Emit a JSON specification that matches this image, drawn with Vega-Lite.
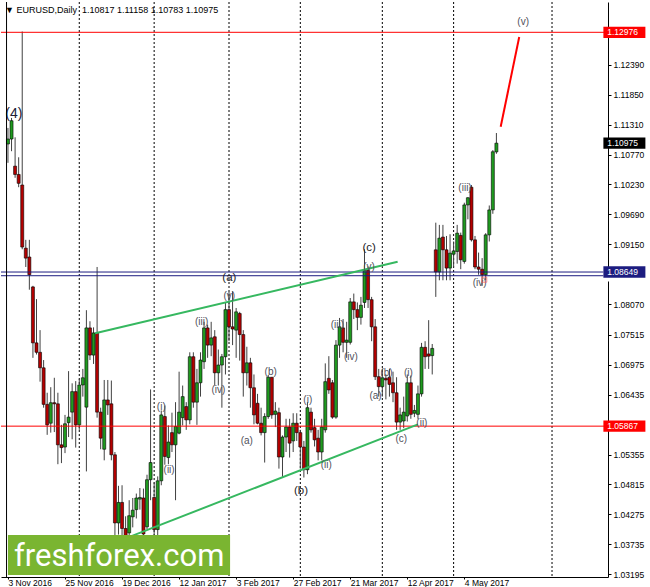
{
  "$schema": "https://vega.github.io/schema/vega-lite/v6.json",
  "width": 607,
  "height": 575,
  "autosize": "none",
  "padding": {"left": 1, "top": 2, "right": 42, "bottom": 10},
  "background": "#ffffff",
  "config": {"view": {"stroke": null}, "font": "Liberation Sans",
    "axis": {"labelOverlap": false, "labelBound": false, "labelFlush": false, "grid": false, "title": null}},
  "title": {"text": "▼ EURUSD,Daily\u00a0\u00a01.10817 1.11158 1.10783 1.10975", "anchor": "start", "frame": "group", "orient": "top", "offset": -13, "dx": 4, "fontSize": 9, "fontWeight": "normal", "font": "Liberation Sans", "color": "#000000"},
  "datasets": {
    "candles": [
      {"i":0,"o":1.1096,"h":1.1125,"l":1.1062,"c":1.1105},
      {"i":1,"o":1.1105,"h":1.1143,"l":1.1083,"c":1.1138},
      {"i":2,"o":1.1056,"h":1.1108,"l":1.1035,"c":1.1041},
      {"i":3,"o":1.1041,"h":1.1072,"l":1.1018,"c":1.1025},
      {"i":4,"o":1.1022,"h":1.1299,"l":1.0906,"c":1.0910},
      {"i":5,"o":1.0908,"h":1.0923,"l":1.0874,"c":1.0890},
      {"i":6,"o":1.0892,"h":1.0923,"l":1.0833,"c":1.0860},
      {"i":7,"o":1.0838,"h":1.0840,"l":1.0710,"c":1.0737},
      {"i":8,"o":1.0737,"h":1.0816,"l":1.0716,"c":1.0720},
      {"i":9,"o":1.0720,"h":1.0760,"l":1.0667,"c":1.0692},
      {"i":10,"o":1.0692,"h":1.0706,"l":1.0620,"c":1.0626},
      {"i":11,"o":1.0626,"h":1.0647,"l":1.0571,"c":1.0589},
      {"i":12,"o":1.0592,"h":1.0657,"l":1.0575,"c":1.0629},
      {"i":13,"o":1.0629,"h":1.0674,"l":1.0576,"c":1.0627},
      {"i":14,"o":1.0627,"h":1.0647,"l":1.0518,"c":1.0553},
      {"i":15,"o":1.0553,"h":1.0589,"l":1.0520,"c":1.0548},
      {"i":16,"o":1.0549,"h":1.0607,"l":1.0538,"c":1.0591},
      {"i":17,"o":1.0593,"h":1.0686,"l":1.0567,"c":1.0603},
      {"i":18,"o":1.0612,"h":1.0664,"l":1.0563,"c":1.0649},
      {"i":19,"o":1.0649,"h":1.0668,"l":1.0548,"c":1.0589},
      {"i":20,"o":1.0589,"h":1.0672,"l":1.0580,"c":1.0661},
      {"i":21,"o":1.0661,"h":1.0690,"l":1.0640,"c":1.0674},
      {"i":22,"o":1.0621,"h":1.0796,"l":1.0505,"c":1.0764},
      {"i":23,"o":1.0764,"h":1.0776,"l":1.0706,"c":1.0715},
      {"i":24,"o":1.0715,"h":1.0765,"l":1.0699,"c":1.0755},
      {"i":25,"o":1.0755,"h":1.0874,"l":1.0602,"c":1.0612},
      {"i":26,"o":1.0612,"h":1.0620,"l":1.0545,"c":1.0565},
      {"i":27,"o":1.0545,"h":1.0670,"l":1.0525,"c":1.0634},
      {"i":28,"o":1.0634,"h":1.0670,"l":1.0607,"c":1.0625},
      {"i":29,"o":1.0627,"h":1.0669,"l":1.0525,"c":1.0535},
      {"i":30,"o":1.0535,"h":1.0540,"l":1.0366,"c":1.0412},
      {"i":31,"o":1.0412,"h":1.0479,"l":1.0391,"c":1.0449},
      {"i":32,"o":1.0449,"h":1.0480,"l":1.0390,"c":1.0402},
      {"i":33,"o":1.0402,"h":1.0424,"l":1.0352,"c":1.0381},
      {"i":34,"o":1.0394,"h":1.0453,"l":1.0368,"c":1.0425},
      {"i":35,"o":1.0423,"h":1.0457,"l":1.0404,"c":1.0435},
      {"i":36,"o":1.0436,"h":1.0465,"l":1.0420,"c":1.0457},
      {"i":37,"o":1.0455,"h":1.0475,"l":1.0436,"c":1.0458},
      {"i":38,"o":1.0457,"h":1.0474,"l":1.0375,"c":1.0392},
      {"i":39,"o":1.0405,"h":1.0499,"l":1.0401,"c":1.0490},
      {"i":40,"o":1.0490,"h":1.0653,"l":1.0453,"c":1.0521},
      {"i":41,"o":1.0458,"h":1.0485,"l":1.0340,"c":1.0400},
      {"i":42,"o":1.0400,"h":1.0496,"l":1.0388,"c":1.0488},
      {"i":43,"o":1.0488,"h":1.0615,"l":1.0480,"c":1.0607},
      {"i":44,"o":1.0604,"h":1.0624,"l":1.0517,"c":1.0532},
      {"i":45,"o":1.0530,"h":1.0588,"l":1.0518,"c":1.0558},
      {"i":46,"o":1.0575,"h":1.0611,"l":1.0540,"c":1.0553},
      {"i":47,"o":1.0553,"h":1.0630,"l":1.0453,"c":1.0586},
      {"i":48,"o":1.0574,"h":1.0685,"l":1.0572,"c":1.0612},
      {"i":49,"o":1.0602,"h":1.0660,"l":1.0588,"c":1.0640},
      {"i":50,"o":1.0622,"h":1.0630,"l":1.0580,"c":1.0598},
      {"i":51,"o":1.0598,"h":1.0720,"l":1.0590,"c":1.0712},
      {"i":52,"o":1.0712,"h":1.0720,"l":1.0620,"c":1.0630},
      {"i":53,"o":1.0630,"h":1.0690,"l":1.0589,"c":1.0665},
      {"i":54,"o":1.0665,"h":1.0720,"l":1.0640,"c":1.0706},
      {"i":55,"o":1.0703,"h":1.0775,"l":1.0690,"c":1.0764},
      {"i":56,"o":1.0764,"h":1.0770,"l":1.0710,"c":1.0733},
      {"i":57,"o":1.0733,"h":1.0775,"l":1.0713,"c":1.0746},
      {"i":58,"o":1.0748,"h":1.0760,"l":1.0660,"c":1.0683},
      {"i":59,"o":1.0683,"h":1.0725,"l":1.0660,"c":1.0697},
      {"i":60,"o":1.0697,"h":1.0717,"l":1.0620,"c":1.0712},
      {"i":61,"o":1.0712,"h":1.0810,"l":1.0680,"c":1.0797},
      {"i":62,"o":1.0797,"h":1.0829,"l":1.0740,"c":1.0766},
      {"i":63,"o":1.0766,"h":1.0830,"l":1.0733,"c":1.0762},
      {"i":64,"o":1.0760,"h":1.0800,"l":1.0710,"c":1.0793},
      {"i":65,"o":1.0790,"h":1.0793,"l":1.0705,"c":1.0752},
      {"i":66,"o":1.0752,"h":1.0760,"l":1.0640,"c":1.0683},
      {"i":67,"o":1.0683,"h":1.0730,"l":1.0660,"c":1.0701},
      {"i":68,"o":1.0701,"h":1.0710,"l":1.0620,"c":1.0656},
      {"i":69,"o":1.0656,"h":1.0680,"l":1.0590,"c":1.0607},
      {"i":70,"o":1.0628,"h":1.0645,"l":1.0590,"c":1.0592},
      {"i":71,"o":1.0592,"h":1.0620,"l":1.0570,"c":1.0575},
      {"i":72,"o":1.0575,"h":1.0610,"l":1.0521,"c":1.0604},
      {"i":73,"o":1.0604,"h":1.0679,"l":1.0600,"c":1.0675},
      {"i":74,"o":1.0675,"h":1.0675,"l":1.0600,"c":1.0607},
      {"i":75,"o":1.0608,"h":1.0630,"l":1.0585,"c":1.0614},
      {"i":76,"o":1.0611,"h":1.0620,"l":1.0510,"c":1.0531},
      {"i":77,"o":1.0531,"h":1.0570,"l":1.0494,"c":1.0567},
      {"i":78,"o":1.0567,"h":1.0600,"l":1.0540,"c":1.0585},
      {"i":79,"o":1.0585,"h":1.0600,"l":1.0530,"c":1.0556},
      {"i":80,"o":1.0560,"h":1.0610,"l":1.0540,"c":1.0592},
      {"i":81,"o":1.0592,"h":1.0610,"l":1.0560,"c":1.0575},
      {"i":82,"o":1.0575,"h":1.0580,"l":1.0510,"c":1.0549},
      {"i":83,"o":1.0549,"h":1.0560,"l":1.0494,"c":1.0508},
      {"i":84,"o":1.0508,"h":1.0630,"l":1.0500,"c":1.0620},
      {"i":85,"o":1.0612,"h":1.0620,"l":1.0575,"c":1.0580},
      {"i":86,"o":1.0584,"h":1.0600,"l":1.0550,"c":1.0562},
      {"i":87,"o":1.0565,"h":1.0580,"l":1.0525,"c":1.0540},
      {"i":88,"o":1.0540,"h":1.0600,"l":1.0525,"c":1.0585},
      {"i":89,"o":1.0580,"h":1.0700,"l":1.0575,"c":1.0667},
      {"i":90,"o":1.0673,"h":1.0713,"l":1.0645,"c":1.0652},
      {"i":91,"o":1.0665,"h":1.0670,"l":1.0600,"c":1.0603},
      {"i":92,"o":1.0603,"h":1.0742,"l":1.0600,"c":1.0733},
      {"i":93,"o":1.0733,"h":1.0782,"l":1.0710,"c":1.0766},
      {"i":94,"o":1.0764,"h":1.0780,"l":1.0720,"c":1.0738},
      {"i":95,"o":1.0738,"h":1.0775,"l":1.0710,"c":1.0742},
      {"i":96,"o":1.0738,"h":1.0818,"l":1.0734,"c":1.0811},
      {"i":97,"o":1.0811,"h":1.0826,"l":1.0780,"c":1.0797},
      {"i":98,"o":1.0797,"h":1.0810,"l":1.0760,"c":1.0783},
      {"i":99,"o":1.0783,"h":1.0820,"l":1.0770,"c":1.0805},
      {"i":100,"o":1.0810,"h":1.0906,"l":1.0800,"c":1.0868},
      {"i":101,"o":1.0868,"h":1.0875,"l":1.0800,"c":1.0815},
      {"i":102,"o":1.0815,"h":1.0820,"l":1.0740,"c":1.0766},
      {"i":103,"o":1.0766,"h":1.0780,"l":1.0670,"c":1.0676},
      {"i":104,"o":1.0676,"h":1.0690,"l":1.0640,"c":1.0658},
      {"i":105,"o":1.0658,"h":1.0690,"l":1.0640,"c":1.0674},
      {"i":106,"o":1.0673,"h":1.0680,"l":1.0635,"c":1.0670},
      {"i":107,"o":1.0675,"h":1.0690,"l":1.0640,"c":1.0662},
      {"i":108,"o":1.0665,"h":1.0685,"l":1.0630,"c":1.0647},
      {"i":109,"o":1.0647,"h":1.0675,"l":1.0580,"c":1.0594},
      {"i":110,"o":1.0594,"h":1.0620,"l":1.0580,"c":1.0607},
      {"i":111,"o":1.0596,"h":1.0640,"l":1.0583,"c":1.0612},
      {"i":112,"o":1.0605,"h":1.0680,"l":1.0595,"c":1.0665},
      {"i":113,"o":1.0665,"h":1.0678,"l":1.0600,"c":1.0608},
      {"i":114,"o":1.0610,"h":1.0625,"l":1.0603,"c":1.0615},
      {"i":115,"o":1.0608,"h":1.0660,"l":1.0600,"c":1.0645},
      {"i":116,"o":1.0645,"h":1.0737,"l":1.0640,"c":1.0729},
      {"i":117,"o":1.0729,"h":1.0740,"l":1.0690,"c":1.0712},
      {"i":118,"o":1.0717,"h":1.0778,"l":1.0690,"c":1.0713},
      {"i":119,"o":1.0714,"h":1.0735,"l":1.0680,"c":1.0727},
      {"i":120,"o":1.0905,"h":1.0954,"l":1.0820,"c":1.0865},
      {"i":121,"o":1.0865,"h":1.0950,"l":1.0850,"c":1.0926},
      {"i":122,"o":1.0928,"h":1.0950,"l":1.0850,"c":1.0905},
      {"i":123,"o":1.0905,"h":1.0930,"l":1.0850,"c":1.0872},
      {"i":124,"o":1.0872,"h":1.0933,"l":1.0850,"c":1.0899},
      {"i":125,"o":1.0897,"h":1.0920,"l":1.0873,"c":1.0903},
      {"i":126,"o":1.0902,"h":1.0950,"l":1.0880,"c":1.0935},
      {"i":127,"o":1.0931,"h":1.0936,"l":1.0870,"c":1.0887},
      {"i":128,"o":1.0884,"h":1.0990,"l":1.0880,"c":1.0986},
      {"i":129,"o":1.0986,"h":1.1000,"l":1.0960,"c":1.0999},
      {"i":130,"o":1.1018,"h":1.1022,"l":1.0920,"c":1.0923},
      {"i":131,"o":1.0923,"h":1.0930,"l":1.0870,"c":1.0874},
      {"i":132,"o":1.0874,"h":1.0900,"l":1.0860,"c":1.0870},
      {"i":133,"o":1.0870,"h":1.0890,"l":1.0840,"c":1.0860},
      {"i":134,"o":1.0860,"h":1.0935,"l":1.0850,"c":1.0932},
      {"i":135,"o":1.0932,"h":1.0985,"l":1.0920,"c":1.0977},
      {"i":136,"o":1.0977,"h":1.1085,"l":1.0970,"c":1.1082},
      {"i":137,"o":1.10817,"h":1.11158,"l":1.10783,"c":1.10975}
    ],
    "grid": [{"i":20},{"i":41},{"i":62},{"i":82},{"i":105},{"i":125},{"i":152.6}],
    "levels": [
      {"p":1.12976,"k":"red"},
      {"p":1.05867,"k":"red"},
      {"p":1.08649,"k":"navy"},
      {"p":1.08582,"k":"navy2"}
    ],
    "trend": [
      {"k":"upper","i":24.47,"p":1.07544},
      {"k":"upper","i":109.3,"p":1.08836},
      {"k":"lower","i":33,"p":1.0384},
      {"k":"lower","i":115,"p":1.0590},
      {"k":"proj","i":138.2,"p":1.1127},
      {"k":"proj","i":143.4,"p":1.1289}
    ],
    "waves": [
      {"t":"(4)","g":"degree","i":1.66,"p":1.1150},
      {"t":"(a)","g":"major","i":62.1,"p":1.0854},
      {"t":"(b)","g":"major","i":82.2,"p":1.0470},
      {"t":"(c)","g":"major","i":101.3,"p":1.0908},
      {"t":"(v)","g":"minor","i":62.1,"p":1.0822},
      {"t":"(iii)","g":"minor","i":54.3,"p":1.0775},
      {"t":"(iv)","g":"minor","i":59.0,"p":1.0652},
      {"t":"(i)","g":"minor","i":43.0,"p":1.0621},
      {"t":"(ii)","g":"minor","i":45.2,"p":1.0508},
      {"t":"(b)","g":"minor","i":73.7,"p":1.0685},
      {"t":"(a)","g":"minor","i":67.0,"p":1.0560},
      {"t":"(i)","g":"minor","i":84.1,"p":1.0634},
      {"t":"(ii)","g":"minor","i":89.3,"p":1.0517},
      {"t":"(iii)","g":"minor","i":92.4,"p":1.0769},
      {"t":"(iv)","g":"minor","i":96.2,"p":1.0712},
      {"t":"(v)","g":"minor","i":101.3,"p":1.0874},
      {"t":"(a)","g":"minor","i":103.1,"p":1.0641},
      {"t":"(b)","g":"minor","i":106.2,"p":1.0683},
      {"t":"(c)","g":"minor","i":110.3,"p":1.0564},
      {"t":"(i)","g":"minor","i":112.3,"p":1.0683},
      {"t":"(ii)","g":"minor","i":116.1,"p":1.0592},
      {"t":"(iii)","g":"minor","i":128.2,"p":1.1017},
      {"t":"(iv)","g":"minor","i":132.3,"p":1.0845},
      {"t":"(v)","g":"minor","i":144.5,"p":1.1316}
    ],
    "tags": [
      {"p":1.12976,"k":"red"},
      {"p":1.10975,"k":"last"},
      {"p":1.08582,"k":"navy2"},
      {"p":1.08649,"k":"navy"},
      {"p":1.05867,"k":"red"}
    ]
  },
  "layer": [
    {
      "data": {"name": "grid"},
      "mark": {"type": "rule", "color": "#000000", "strokeWidth": 1, "strokeDash": [2, 2]},
      "encoding": {
        "x": {"field": "i", "type": "quantitative", "scale": {"domain": [-0.552, 166.9], "nice": false, "zero": false},
          "axis": {"title": null, "grid": false, "values": [0, 16, 32, 48, 64, 80, 96, 112, 128], "tickCount": 50,
            "labelExpr": "['3 Nov 2016','25 Nov 2016','19 Dec 2016','12 Jan 2017','3 Feb 2017','27 Feb 2017','21 Mar 2017','12 Apr 2017','4 May 2017'][round(datum.value/16)]",
            "labelAlign": "left", "labelFontSize": 8.5, "labelFont": "Liberation Sans", "labelColor": "#000000",
            "tickSize": 2, "tickColor": "#000000", "domainColor": "#000000", "labelPadding": -1,
            "labelFlush": false, "labelOverlap": false, "labelBound": false}}
      }
    },
    {
      "data": {"name": "candles"},
      "mark": {"type": "rule", "color": "#404040", "strokeWidth": 1},
      "encoding": {
        "x": {"field": "i", "type": "quantitative", "scale": {"domain": [-0.552, 166.9], "nice": false, "zero": false}},
        "y": {"field": "l", "type": "quantitative", "scale": {"domain": [1.03144, 1.13523], "nice": false, "zero": false},
          "axis": {"orient": "right", "title": null, "grid": false, "tickCount": 50,
            "values": [1.1239, 1.1185, 1.1131, 1.1077, 1.1023, 1.0969, 1.0915, 1.0807, 1.07515, 1.06975, 1.06435, 1.05355, 1.04815, 1.04275, 1.03735, 1.03195],
            "format": ".5f", "labelFontSize": 8.5, "labelFont": "Liberation Sans", "labelColor": "#000000",
            "tickSize": 3, "tickColor": "#000000", "domainColor": "#000000", "labelPadding": 2,
            "labelOverlap": false, "labelBound": false, "labelFlush": false}},
        "y2": {"field": "h"}
      }
    },
    {
      "data": {"name": "candles"},
      "mark": {"type": "bar", "width": 3, "stroke": "#000000", "strokeWidth": 0.6},
      "encoding": {
        "x": {"field": "i", "type": "quantitative"},
        "y": {"field": "o", "type": "quantitative"},
        "y2": {"field": "c"},
        "color": {"condition": {"test": "datum.c >= datum.o", "value": "#1f9a1f"}, "value": "#b40000"}
      }
    },
    {
      "data": {"name": "levels"},
      "mark": {"type": "rule", "strokeWidth": 1},
      "encoding": {
        "y": {"field": "p", "type": "quantitative"},
        "color": {"condition": {"test": "datum.k == 'red'", "value": "#ff0000"}, "value": "#1c1c80"}
      }
    },
    {
      "data": {"name": "trend"},
      "transform": [{"filter": "datum.k != 'proj'"}],
      "mark": {"type": "line", "color": "#36b860", "strokeWidth": 2},
      "encoding": {
        "x": {"field": "i", "type": "quantitative"},
        "y": {"field": "p", "type": "quantitative"},
        "detail": {"field": "k"}
      }
    },
    {
      "data": {"name": "trend"},
      "transform": [{"filter": "datum.k == 'proj'"}],
      "mark": {"type": "line", "color": "#ff0000", "strokeWidth": 2},
      "encoding": {
        "x": {"field": "i", "type": "quantitative"},
        "y": {"field": "p", "type": "quantitative"}
      }
    },
    {
      "data": {"name": "waves"},
      "transform": [{"filter": "datum.g == 'minor'"}],
      "mark": {"type": "text", "fontSize": 10, "font": "Liberation Sans", "color": "#50505a", "align": "center", "baseline": "middle"},
      "encoding": {
        "x": {"field": "i", "type": "quantitative"},
        "y": {"field": "p", "type": "quantitative"},
        "text": {"field": "t"}
      }
    },
    {
      "data": {"name": "waves"},
      "transform": [{"filter": "datum.g == 'major'"}],
      "mark": {"type": "text", "fontSize": 11.5, "font": "Liberation Sans", "color": "#222228", "align": "center", "baseline": "middle"},
      "encoding": {
        "x": {"field": "i", "type": "quantitative"},
        "y": {"field": "p", "type": "quantitative"},
        "text": {"field": "t"}
      }
    },
    {
      "data": {"name": "waves"},
      "transform": [{"filter": "datum.g == 'degree'"}],
      "mark": {"type": "text", "fontSize": 14, "font": "Liberation Sans", "color": "#202038", "align": "center", "baseline": "middle"},
      "encoding": {
        "x": {"field": "i", "type": "quantitative"},
        "y": {"field": "p", "type": "quantitative"},
        "text": {"field": "t"}
      }
    },
    {
      "data": {"values": [{}]},
      "mark": {"type": "point", "shape": "square", "size": 25, "filled": false, "stroke": "#ff5a5a", "strokeWidth": 1},
      "encoding": {
        "x": {"datum": 133.6, "type": "quantitative"},
        "y": {"datum": 1.0851, "type": "quantitative"}
      }
    },
    {
      "data": {"name": "tags"},
      "mark": {"type": "point", "shape": "M-1,-0.27L1,-0.27L1,0.27L-1,0.27Z", "size": 1764, "filled": true, "opacity": 1, "strokeWidth": 0},
      "encoding": {
        "x": {"datum": 172.9, "type": "quantitative"},
        "y": {"field": "p", "type": "quantitative"},
        "color": {"condition": [
          {"test": "datum.k == 'red'", "value": "#ff0000"},
          {"test": "datum.k == 'last'", "value": "#000000"},
          {"test": "datum.k == 'navy'", "value": "#1c1c80"}
        ], "value": "#ffffff"}
      }
    },
    {
      "data": {"name": "tags"},
      "transform": [{"filter": "datum.k != 'navy2'"}],
      "mark": {"type": "text", "fontSize": 8.5, "font": "Liberation Sans", "align": "left", "baseline": "middle", "color": "#ffffff"},
      "encoding": {
        "x": {"datum": 168.1, "type": "quantitative"},
        "y": {"field": "p", "type": "quantitative"},
        "text": {"field": "p", "format": ".5f"}
      }
    },
    {
      "data": {"values": [{}]},
      "mark": {"type": "rect", "color": "#7ab531"},
      "encoding": {
        "x": {"datum": 0, "type": "quantitative"},
        "x2": {"datum": 62.3},
        "y": {"datum": 1.0390, "type": "quantitative"},
        "y2": {"datum": 1.0318}
      }
    },
    {
      "data": {"values": [{}]},
      "mark": {"type": "text", "text": "freshforex.com", "font": "Roboto", "fontSize": 31, "color": "#ffffff", "align": "center", "baseline": "alphabetic"},
      "encoding": {
        "x": {"datum": 31.2, "type": "quantitative"},
        "y": {"datum": 1.03344, "type": "quantitative"}
      }
    },
    {
      "data": {"values": [{}]},
      "mark": {"type": "rule", "color": "#000000", "strokeWidth": 1},
      "encoding": {
        "x": {"datum": -0.4, "type": "quantitative"}
      }
    }
  ]
}
